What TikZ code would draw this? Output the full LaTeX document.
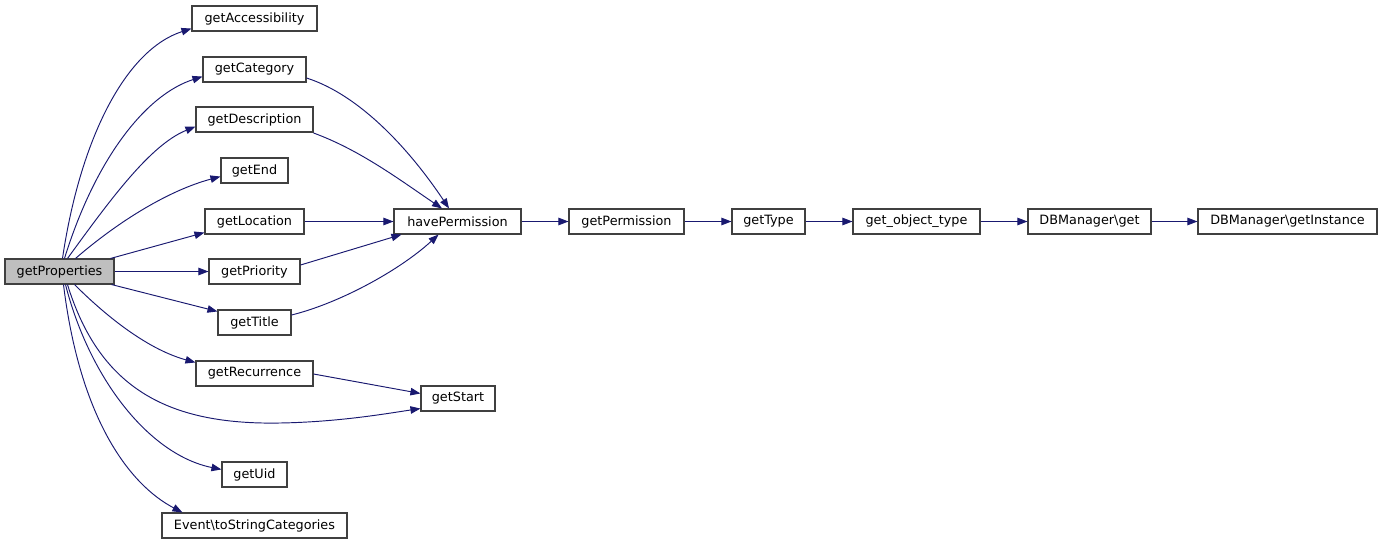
\documentclass[tikz,border=0pt]{standalone}
\usepackage{fontspec}
\setmainfont{DejaVu Sans}
\usetikzlibrary{arrows.meta}
\definecolor{edgec}{HTML}{191970}
\definecolor{boxc}{HTML}{404040}
\tikzset{
  fn/.style={draw=boxc, line width=1.1pt, fill=white, minimum height=25pt, inner sep=0pt, font=\fontsize{12.8}{14}\selectfont, text=black},
  cur/.style={fn, fill=black!25},
  e/.style={draw=edgec, line width=0.95pt, -{Triangle[length=10pt,width=7.5pt]}, fill=none},
}
\begin{document}
\begin{tikzpicture}[x=1pt,y=-1pt]
\useasboundingbox (0,0) rectangle (1383,544);
\node[cur, minimum width=109pt] (prop) at (59.5,271.5) {getProperties};
\node[fn, minimum width=125pt] (acc) at (254.5,18.5) {getAccessibility};
\node[fn, minimum width=103pt] (cat) at (254.5,69.5) {getCategory};
\node[fn, minimum width=117pt] (desc) at (254.5,119.5) {getDescription};
\node[fn, minimum width=67pt] (end) at (254.5,170.5) {getEnd};
\node[fn, minimum width=99pt] (loc) at (254.5,221.5) {getLocation};
\node[fn, minimum width=91pt] (pri) at (254.5,271.5) {getPriority};
\node[fn, minimum width=73pt] (tit) at (254.5,322.5) {getTitle};
\node[fn, minimum width=117pt] (rec) at (254.5,373.5) {getRecurrence};
\node[fn, minimum width=74pt] (start) at (458,398.5) {getStart};
\node[fn, minimum width=65pt] (uid) at (254.5,474.5) {getUid};
\node[fn, minimum width=185pt] (evt) at (254.5,525.5) {Event\textbackslash toStringCategories};
\node[fn, minimum width=127pt] (have) at (457.5,221.5) {havePermission};
\node[fn, minimum width=115pt] (perm) at (626.5,221.5) {getPermission};
\node[fn, minimum width=73pt] (type) at (768.5,221.5) {getType};
\node[fn, minimum width=127pt] (obj) at (916.5,221.5) {get\_object\_type};
\node[fn, minimum width=123pt] (dbget) at (1089.5,221.5) {DBManager\textbackslash get};
\node[fn, minimum width=179pt] (dbinst) at (1287.5,221.5) {DBManager\textbackslash getInstance};

% from getProperties
\draw[e] ([xshift=3pt]prop.north) .. controls (80,140) and (125,50) .. ([yshift=3pt]acc.south west);
\draw[e] ([xshift=5pt]prop.north) .. controls (95,160) and (145,95) .. ([yshift=6pt]cat.south west);
\draw[e] ([xshift=8pt]prop.north) .. controls (110,200) and (150,145) .. ([yshift=6pt]desc.south west);
\draw[e] ([xshift=16pt]prop.north) .. controls (120,220) and (170,190) .. ([yshift=7pt]end.south west);
\draw[e] ([xshift=-4pt]prop.north east) -- ([yshift=2pt]loc.south west);
\draw[e] (prop.east) -- (pri.west);
\draw[e] ([xshift=-3pt]prop.south east) -- ([yshift=-2pt]tit.north west);
\draw[e] ([xshift=15pt]prop.south) .. controls (110,320) and (150,350) .. ([yshift=-2pt]rec.north west);
\draw[e] ([xshift=8pt]prop.south) .. controls (100,390) and (170,425) .. (280,423) .. controls (340,422) and (390,413) .. ([yshift=3pt]start.south west);
\draw[e] ([xshift=6pt]prop.south) .. controls (90,380) and (150,455) .. ([yshift=-8pt]uid.north west);
\draw[e] ([xshift=4pt]prop.south) .. controls (80,420) and (130,485) .. ([xshift=21pt]evt.north west);

% into havePermission
\draw[e] (cat.east |- 0,78) .. controls (360,95) and (410,150) .. ([xshift=-8.5pt]have.north);
\draw[e] (desc.east |- 0,133) .. controls (360,150) and (400,180) .. ([xshift=-15.5pt]have.north);
\draw[e] (loc.east) -- (have.west);
\draw[e] (pri.east |- 0,265) -- ([xshift=8pt]have.south west);
\draw[e] (tit.east |- 0,315) .. controls (340,303) and (400,270) .. ([xshift=-19pt]have.south);
\draw[e] (rec.east |- 0,374) -- ([yshift=-8pt]start.north west);

% chain
\draw[e] (have.east) -- (perm.west);
\draw[e] (perm.east) -- (type.west);
\draw[e] (type.east) -- (obj.west);
\draw[e] (obj.east) -- (dbget.west);
\draw[e] (dbget.east) -- (dbinst.west);
\end{tikzpicture}
\end{document}
